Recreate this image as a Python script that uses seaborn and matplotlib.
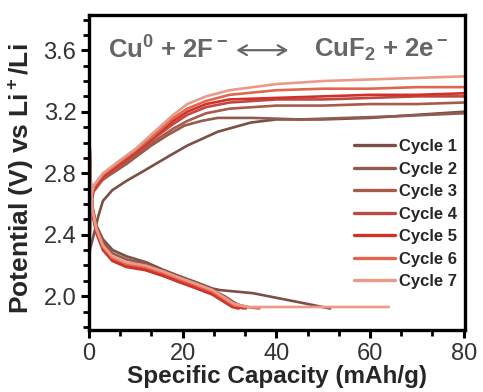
import matplotlib
matplotlib.use("Agg")
import matplotlib.pyplot as plt
from matplotlib.ticker import MultipleLocator
from matplotlib.lines import Line2D
import seaborn as sns
import pandas as pd

# ---------------- data ----------------
cycles = ["Cycle 1", "Cycle 2", "Cycle 3", "Cycle 4", "Cycle 5", "Cycle 6", "Cycle 7"]
colors = ["#7a5046", "#8f5c4e", "#a95b4b", "#bb4a42", "#d3302a", "#e2664f", "#eb9a88"]

# charge curves (capacity mAh/g, potential V)
c1_ch_x = [0, 0.2, 1.2, 2.0, 3.0, 5, 8, 12, 17, 21, 27.5, 34.6, 40, 50, 60, 70, 80]
c1_ch_y = [2.08, 2.30, 2.42, 2.52, 2.62, 2.69, 2.75, 2.82, 2.91, 2.98, 3.07, 3.13, 3.15, 3.15, 3.16, 3.18, 3.20]
c2_ch_x = [0, 0.3, 1.3, 4, 8, 13.3, 16.9, 20.4, 24, 27.5, 35, 45, 55, 65, 80]
c2_ch_y = [2.08, 2.62, 2.72, 2.78, 2.86, 2.98, 3.05, 3.11, 3.14, 3.16, 3.16, 3.15, 3.16, 3.17, 3.19]
bundle_ch_x = [0, 0.3, 1, 3, 6, 10, 14, 18, 21, 25, 30, 40, 50, 60, 70, 80]
c3_ch_y = [2.08, 2.58, 2.68, 2.76, 2.83, 2.92, 3.01, 3.09, 3.14, 3.19, 3.22, 3.24, 3.24, 3.25, 3.25, 3.26]
c4_ch_y = [2.08, 2.60, 2.70, 2.77, 2.84, 2.93, 3.03, 3.12, 3.18, 3.23, 3.26, 3.28, 3.28, 3.29, 3.30, 3.30]
c5_ch_y = [2.08, 2.60, 2.70, 2.78, 2.85, 2.94, 3.04, 3.14, 3.20, 3.25, 3.28, 3.29, 3.30, 3.31, 3.31, 3.32]
c6_ch_y = [2.08, 2.62, 2.71, 2.79, 2.86, 2.95, 3.05, 3.16, 3.22, 3.27, 3.31, 3.34, 3.35, 3.35, 3.36, 3.36]
c7_ch_y = [2.08, 2.62, 2.72, 2.80, 2.87, 2.96, 3.07, 3.18, 3.25, 3.30, 3.34, 3.38, 3.40, 3.41, 3.42, 3.43]

# discharge curves
c1_dis_x = [0, 0.3, 0.8, 1.6, 3, 5.1, 8, 12.3, 16, 19.4, 23, 26.4, 28, 35, 40, 45, 51.5]
c1_dis_y = [3.25, 2.80, 2.58, 2.46, 2.37, 2.30, 2.26, 2.22, 2.17, 2.13, 2.09, 2.05, 2.04, 2.02, 1.99, 1.96, 1.92]
c2_dis_x = [0, 0.3, 0.8, 1.6, 3, 5, 8, 12, 16, 19.4, 23, 26.4, 29, 31, 33.5]
c2_dis_y = [3.25, 2.78, 2.56, 2.45, 2.35, 2.28, 2.24, 2.21, 2.16, 2.12, 2.08, 2.04, 2.00, 1.96, 1.92]
c3_dis_x = [0, 0.3, 0.8, 1.6, 3, 5, 8, 12, 16, 19.4, 23, 26.4, 29, 31, 34]
c3_dis_y = [3.25, 2.75, 2.55, 2.43, 2.32, 2.25, 2.21, 2.19, 2.15, 2.11, 2.07, 2.03, 1.98, 1.95, 1.93]
c4_dis_x = [0, 0.3, 0.8, 1.6, 3, 5, 8, 12, 16, 19.4, 23, 26.4, 29, 30.6, 33]
c4_dis_y = [3.25, 2.74, 2.54, 2.42, 2.31, 2.24, 2.20, 2.18, 2.14, 2.10, 2.06, 2.02, 1.97, 1.94, 1.92]
c5_dis_x = [0, 0.3, 0.8, 1.6, 3, 5, 8, 12, 16, 19.4, 23, 26.4, 29, 30.6, 32]
c5_dis_y = [3.25, 2.74, 2.53, 2.41, 2.30, 2.23, 2.19, 2.17, 2.13, 2.09, 2.05, 2.01, 1.96, 1.93, 1.92]
c6_dis_x = [0, 0.3, 0.8, 1.6, 3, 5, 8, 12, 16, 19.4, 23, 26.4, 29, 31, 36.4]
c6_dis_y = [3.25, 2.75, 2.55, 2.43, 2.32, 2.25, 2.21, 2.19, 2.15, 2.11, 2.07, 2.03, 1.98, 1.94, 1.92]
c7_dis_x = [0, 0.3, 0.8, 1.6, 3, 5, 8, 12, 16, 19.4, 23, 26.4, 29, 31, 34, 40, 50, 64]
c7_dis_y = [3.26, 2.76, 2.56, 2.44, 2.33, 2.26, 2.22, 2.20, 2.16, 2.12, 2.08, 2.04, 1.99, 1.95, 1.93, 1.93, 1.93, 1.93]

charge = [(c1_ch_x, c1_ch_y), (c2_ch_x, c2_ch_y), (bundle_ch_x, c3_ch_y), (bundle_ch_x, c4_ch_y),
          (bundle_ch_x, c5_ch_y), (bundle_ch_x, c6_ch_y), (bundle_ch_x, c7_ch_y)]
discharge = [(c1_dis_x, c1_dis_y), (c2_dis_x, c2_dis_y), (c3_dis_x, c3_dis_y), (c4_dis_x, c4_dis_y),
             (c5_dis_x, c5_dis_y), (c6_dis_x, c6_dis_y), (c7_dis_x, c7_dis_y)]

rows = []
for i, name in enumerate(cycles):
    for seg, (xs, ys) in (("dis", discharge[i]), ("ch", charge[i])):
        for k, (x, y) in enumerate(zip(xs, ys)):
            rows.append({"cap": x, "V": y, "cycle": name, "seg": f"{name}-{seg}", "order": k})
df = pd.DataFrame(rows)

# ---------------- plot ----------------
sns.set_style("white")
plt.rcParams["font.family"] = ["Liberation Sans", "DejaVu Sans"]
plt.rcParams["mathtext.fontset"] = "custom"
plt.rcParams["mathtext.rm"] = "Liberation Sans:bold"
plt.rcParams["mathtext.bf"] = "Liberation Sans:bold"
plt.rcParams["mathtext.it"] = "Liberation Sans:bold"

fig = plt.figure(figsize=(4.83, 3.92), dpi=100)
ax = fig.add_axes([0.184, 0.158, 0.779, 0.804])

sns.lineplot(data=df, x="cap", y="V", hue="cycle", units="seg", estimator=None, sort=False,
             palette=dict(zip(cycles, colors)), hue_order=cycles, lw=1.9, legend=False, ax=ax)

ax.set_xlim(0, 80.3)
ax.set_ylim(1.78, 3.83)
ax.xaxis.set_major_locator(MultipleLocator(20))
ax.xaxis.set_minor_locator(MultipleLocator(20 / 3))
ax.yaxis.set_minor_locator(MultipleLocator(0.1))
ax.set_yticks([2.0, 2.4, 2.8, 3.2, 3.6])
ax.set_yticklabels(["2.0", "2.4", "2.8", "3.2", "3.6"])

ax.tick_params(which="major", direction="out", length=6, width=2.2, color="black",
               labelsize=17, labelcolor="#333333", pad=3,
               bottom=True, left=True, top=False, right=False)
ax.tick_params(which="minor", direction="out", length=4, width=2.0, color="black",
               bottom=True, left=True, top=False, right=False)

for s in ax.spines.values():
    s.set_linewidth(2.4)
    s.set_color("black")

ax.set_xlabel("Specific Capacity (mAh/g)", fontsize=17.5, fontweight="bold", labelpad=0)
ax.set_ylabel("Potential (V) vs Li$^+$/Li", fontsize=19, fontweight="bold")
ax.yaxis.set_label_coords(-0.14, 0.479)

ty = 0.888
ax.text(0.052, ty, r"Cu$^0$ + 2F$^-$", transform=ax.transAxes, fontsize=18.5,
        fontweight="bold", color="#666666", va="center", ha="left")
ax.annotate("", xy=(0.392, ty), xytext=(0.53, ty), xycoords="axes fraction",
            arrowprops=dict(arrowstyle="<->,head_length=0.6,head_width=0.35", color="#666666",
                            lw=1.6, shrinkA=0, shrinkB=0))
ax.text(0.955, ty, r"CuF$_2$ + 2e$^-$", transform=ax.transAxes, fontsize=18.5,
        fontweight="bold", color="#666666", va="center", ha="right")

handles = [Line2D([0], [0], color=c, lw=2.4) for c in colors]
leg = ax.legend(handles, cycles, loc="center right", bbox_to_anchor=(0.978, 0.368), frameon=False,
                prop={"weight": "bold", "size": 12}, handlelength=2.45, handletextpad=0.25,
                labelspacing=0.45, borderaxespad=0, borderpad=0)

fig.savefig("out.png", dpi=100)
